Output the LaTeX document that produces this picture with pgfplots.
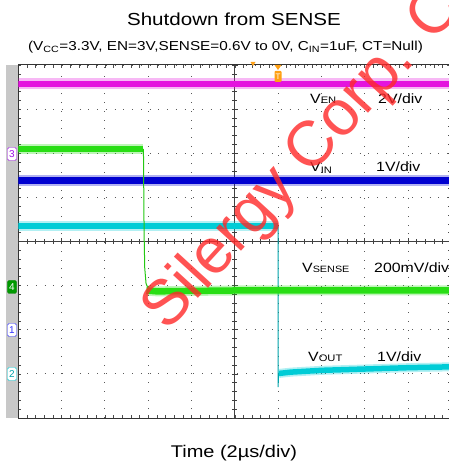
\documentclass[border=0pt]{standalone}
\usepackage{pgfplots}
\pgfplotsset{compat=1.18}
\usepackage{fontspec}
\setmainfont{Liberation Sans}
\usepackage{graphicx}
\definecolor{cmag}{RGB}{228,20,222}
\definecolor{cgreen}{RGB}{40,222,20}
\definecolor{cblue}{RGB}{0,0,208}
\definecolor{ccyan}{RGB}{0,204,214}
\definecolor{cgray}{RGB}{200,200,200}
\definecolor{corange}{RGB}{255,160,20}
\definecolor{cwm}{RGB}{255,40,40}
\newcommand{\sx}[1]{\scalebox{1.18}[1]{#1}}
\newcommand{\fs}[1]{\fontsize{#1}{#1}\selectfont}
\begin{document}
\begin{tikzpicture}
\begin{scope}[x=1bp,y=1bp]
\fill[cgray] (6,{466-65}) rectangle (18.3,{466-418});
\end{scope}
% grid axis
\begin{axis}[at={(18.3bp,48bp)}, anchor=origin, scale only axis,
  width=433bp, height=353bp, xmin=0, xmax=10, ymin=0, ymax=8,
  xtick={0,...,10}, ytick={0,...,8}, minor x tick num=4, minor y tick num=4,
  xticklabels={}, yticklabels={}, tick align=inside,
  major tick length=3bp, minor tick length=3bp,
  tick style={black!70, line width=0.6bp},
  grid=major, major grid style={black!65, line width=0.9bp, dash pattern=on 0.9bp off 7.85bp},
  axis line style={black!80, line width=1bp}]
\end{axis}
% crosshair axis
\begin{axis}[at={(234.8bp,224.5bp)}, anchor=origin, scale only axis,
  width=433bp, height=353bp, xmin=-5, xmax=5, ymin=-4, ymax=4,
  axis lines=middle, axis line style={-, black!75, line width=0.8bp},
  xtick={-5,...,5}, ytick={-4,...,4}, minor x tick num=4, minor y tick num=4,
  xticklabels={}, yticklabels={}, tick align=center,
  major tick length=6bp, minor tick length=5bp,
  tick style={black!75, line width=0.6bp}]
\end{axis}
% traces axis
\begin{axis}[at={(18.3bp,48bp)}, anchor=origin, scale only axis,
  width=433bp, height=353bp, xmin=0, xmax=10, ymin=0, ymax=8,
  hide axis, clip=true]
% magenta V_EN
\addplot[cmag, line width=11bp, opacity=0.3] coordinates {(0,7.57) (10,7.57)};
\addplot[cmag, line width=6.5bp] coordinates {(0,7.57) (10,7.57)};
% blue V_IN
\addplot[cblue, line width=11bp, opacity=0.3] coordinates {(0,5.39) (10,5.39)};
\addplot[cblue, line width=7bp] coordinates {(0,5.39) (10,5.39)};
% cyan V_OUT
\addplot[ccyan, line width=10bp, opacity=0.3] coordinates {(0,4.35) (6.0,4.35)};
\addplot[ccyan, line width=6bp] coordinates {(0,4.35) (6.0,4.35)};
\addplot[ccyan!80!black, line width=1bp] coordinates {(6.0,4.35) (6.0,0.70) (6.01,1.02)};
\addplot[ccyan, line width=9bp, opacity=0.3] coordinates {(6.02,1.01) (6.3,1.04) (7,1.08) (8,1.11) (9,1.14) (10,1.16)};
\addplot[ccyan, line width=5.5bp] coordinates {(6.02,1.01) (6.3,1.04) (7,1.08) (8,1.11) (9,1.14) (10,1.16)};
% green V_SENSE
\addplot[cgreen, line width=10bp, opacity=0.3] coordinates {(0,6.10) (2.89,6.10)};
\addplot[cgreen, line width=6.5bp] coordinates {(0,6.10) (2.89,6.10)};
\addplot[cgreen!90!black, line width=1bp] coordinates {(2.89,6.10) (2.895,5.5) (2.905,4.2) (2.92,3.4) (2.95,3.05) (3.0,2.93)};
\addplot[cgreen, line width=10bp, opacity=0.3] coordinates {(2.96,2.89) (3.2,2.87) (4,2.88) (5,2.89) (10,2.89)};
\addplot[cgreen, line width=6.5bp] coordinates {(2.96,2.89) (3.2,2.87) (4,2.88) (5,2.89) (10,2.89)};
\end{axis}
\begin{scope}[x=1bp,y=1bp]
% channel markers
\node[draw=cmag!70!blue, fill=white, text=cmag!70!blue, rounded corners=1.5bp, minimum width=9bp, minimum height=13bp, inner sep=0pt, font=\fs{10}] at (12,{466-154}) {3};
\node[draw=green!50!black, fill=green!60!black, text=white, rounded corners=1.5bp, minimum width=9bp, minimum height=13bp, inner sep=0pt, font=\fs{10}] at (12,{466-287}) {4};
\node[draw=blue!80, fill=white, text=blue!80, rounded corners=1.5bp, minimum width=9bp, minimum height=13bp, inner sep=0pt, font=\fs{10}] at (12,{466-330}) {1};
\node[draw=ccyan, fill=white, text=ccyan!80!black, rounded corners=1.5bp, minimum width=9bp, minimum height=13bp, inner sep=0pt, font=\fs{10}] at (12,{466-374}) {2};
% trigger markers
\fill[corange] (250.5,{466-62}) -- (255.5,{466-62}) -- (253,{466-66}) -- cycle;
\fill[corange] (274.5,{466-65}) -- (281.5,{466-65}) -- (278,{466-70}) -- cycle;
\node[fill=corange, text=white, rounded corners=1bp, minimum width=7bp, minimum height=11bp, inner sep=0pt, font=\fs{8}] at (278,{466-76.5}) {T};
% titles
\node[anchor=base] at (234,{466-26}) {\sx{\fs{17.5}Shutdown from SENSE}};
\node[anchor=base] at (225.5,{466-50.5}) {\sx{\fs{13}(V\textsubscript{CC}=3.3V, EN=3V,SENSE=0.6V to 0V, C\textsubscript{IN}=1uF, CT=Null)}};
\node[anchor=base] at (234,{466-457}) {\sx{\fs{17}Time (2\textmu s/div)}};
% channel labels
\node[anchor=base west, inner sep=0pt] at (310,{466-103.3}) {\sx{\fs{13.5}V{\fs{9.5}EN}}};
\node[anchor=base west, inner sep=0pt] at (378,{466-103.3}) {\sx{\fs{13.5}2V/div}};
\node[anchor=base west, inner sep=0pt] at (310,{466-171}) {\sx{\fs{13.5}V\textsubscript{IN}}};
\node[anchor=base west, inner sep=0pt] at (376,{466-171}) {\sx{\fs{13.5}1V/div}};
\node[anchor=base west, inner sep=0pt] at (302,{466-272.7}) {\sx{\fs{13.5}V{\fs{9.2}SENSE}}};
\node[anchor=base west, inner sep=0pt] at (374,{466-272.7}) {\sx{\fs{13.5}200mV/div}};
\node[anchor=base west, inner sep=0pt] at (308,{466-361.7}) {\sx{\fs{13.5}V{\fs{9.5}OUT}}};
\node[anchor=base west, inner sep=0pt] at (377,{466-361.7}) {\sx{\fs{13.5}1V/div}};
% watermark
\node[anchor=base west, inner sep=0pt, rotate=47.5, text=cwm, opacity=0.8, font=\fs{64}] at (167,{466-333}) {Silergy Corp. Confidential};
\end{scope}
\pgfresetboundingbox
\path[use as bounding box] (0bp,0bp) rectangle (449bp,466bp);
\end{tikzpicture}
\end{document}
